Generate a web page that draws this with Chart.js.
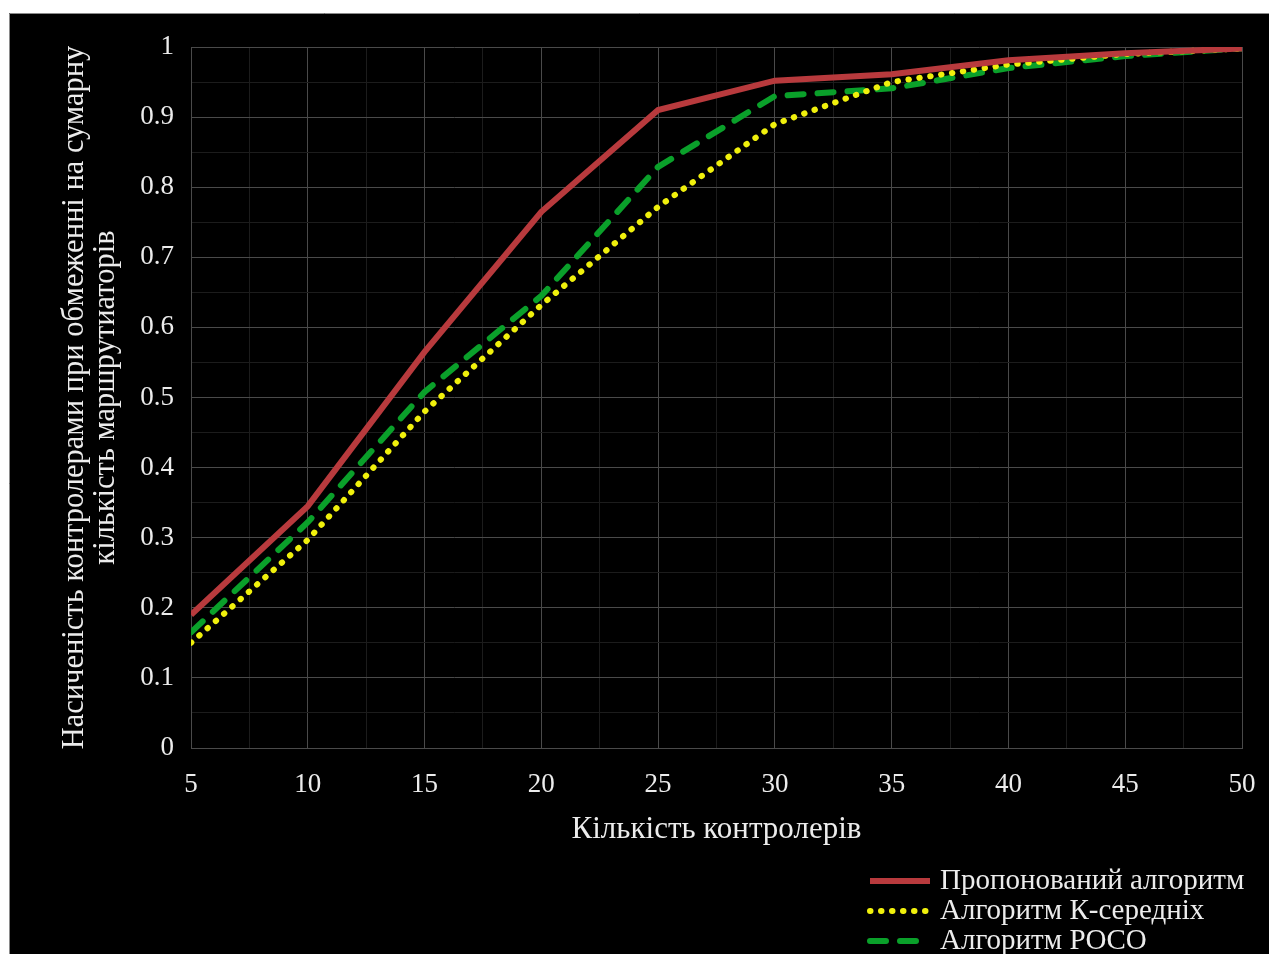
<!DOCTYPE html>
<html>
<head>
<meta charset="utf-8">
<script src="https://cdn.jsdelivr.net/npm/chart.js@4/dist/chart.umd.min.js"></script>
<style>
html,body{margin:0;padding:0;background:#fff;}
#c{display:block;}
</style>
</head>
<body>
<canvas id="c" width="1269" height="954"></canvas>
<script>
const controllers = [5, 10, 15, 20, 25, 30, 35, 40, 45, 50];
const proposed = [0.19, 0.345, 0.565, 0.765, 0.91, 0.952, 0.961, 0.981, 0.991, 0.998];
const kmeans = [0.15, 0.297, 0.48, 0.632, 0.772, 0.89, 0.95, 0.975, 0.99, 0.998];
const poco = [0.165, 0.322, 0.508, 0.645, 0.829, 0.93, 0.941, 0.97, 0.987, 0.998];
const seriesNames = ['Пропонований алгоритм', 'Алгоритм К-середніх', 'Алгоритм POCO'];
const xTitle = 'Кількість контролерів';
const yTitle = ['Насиченість контролерами при обмеженні на сумарну', 'кількість маршрутиаторів'];

const FONT = '"Liberation Serif", "Times New Roman", serif';
const TEXT = '#ececec';
const GRID_MAJOR = '#4a4a4a';
const GRID_MINOR = '#1c1c1c';

const bgPlugin = {
  id: 'bg',
  beforeDraw(chart) {
    const ctx = chart.ctx;
    ctx.save();
    ctx.fillStyle = '#ffffff';
    ctx.fillRect(0, 0, chart.width, chart.height);
    ctx.fillStyle = '#000000';
    ctx.fillRect(9, 13, chart.width - 9, chart.height - 13);
    ctx.strokeStyle = '#8a8a8a';
    ctx.lineWidth = 1;
    ctx.beginPath();
    ctx.moveTo(9.5, chart.height);
    ctx.lineTo(9.5, 13.5);
    ctx.lineTo(chart.width, 13.5);
    ctx.stroke();
    ctx.restore();
  }
};

const legendPlugin = {
  id: 'customLegend',
  afterDraw(chart) {
    const ctx = chart.ctx;
    ctx.save();
    chart.data.datasets.forEach((ds, i) => {
      const y = 881 + i * 30;
      ctx.strokeStyle = ds.borderColor;
      ctx.lineWidth = ds.borderWidth;
      ctx.lineCap = ds.borderCapStyle || 'butt';
      ctx.setLineDash(ds.borderDash || []);
      ctx.beginPath();
      ctx.moveTo(870, y);
      ctx.lineTo(930, y);
      ctx.stroke();
      ctx.setLineDash([]);
      ctx.fillStyle = TEXT;
      ctx.font = '29px ' + FONT;
      ctx.textAlign = 'left';
      ctx.textBaseline = 'middle';
      ctx.fillText(ds.label, 940, y);
    });
    ctx.restore();
  }
};

const isMult = (v, step) => Math.abs(v / step - Math.round(v / step)) < 1e-6;

new Chart(document.getElementById('c'), {
  type: 'line',
  data: {
    datasets: [
      {
        label: seriesNames[0],
        data: controllers.map((x, i) => ({x, y: proposed[i]})),
        borderColor: '#b83a3d',
        borderWidth: 6,
        borderCapStyle: 'butt',
        pointRadius: 0,
        tension: 0
      },
      {
        label: seriesNames[1],
        data: controllers.map((x, i) => ({x, y: kmeans[i]})),
        borderColor: '#f0f00c',
        borderWidth: 6,
        borderDash: [0.5, 10.5],
        borderCapStyle: 'round',
        pointRadius: 0,
        tension: 0
      },
      {
        label: seriesNames[2],
        data: controllers.map((x, i) => ({x, y: poco[i]})),
        borderColor: '#0aa02a',
        borderWidth: 6,
        borderDash: [16, 14],
        borderCapStyle: 'round',
        pointRadius: 0,
        tension: 0
      }
    ]
  },
  options: {
    responsive: false,
    animation: false,
    devicePixelRatio: 1,
    layout: {padding: {left: 60, right: 27, top: 47, bottom: 106}},
    plugins: {legend: {display: false}, tooltip: {enabled: false}},
    scales: {
      x: {
        type: 'linear',
        min: 5,
        max: 50,
        afterFit(s) { s.height = 100; s.paddingRight = 0; s.paddingLeft = 0; },
        grid: {
          drawTicks: false,
          color: c => (c.tick && isMult(c.tick.value, 5)) ? GRID_MAJOR : GRID_MINOR,
          lineWidth: 1
        },
        border: {color: GRID_MAJOR},
        ticks: {
          stepSize: 2.5,
          autoSkip: false,
          maxRotation: 0,
          padding: 21,
          color: TEXT,
          font: {family: FONT, size: 27},
          callback: v => isMult(v, 5) ? String(Math.round(v)) : ''
        },
        title: {
          display: true,
          text: xTitle,
          color: TEXT,
          font: {family: FONT, size: 31, lineHeight: 1.2},
          padding: {top: 0, bottom: 0}
        }
      },
      y: {
        min: 0,
        max: 1,
        afterFit(s) { s.width = 131; s.paddingTop = 0; s.paddingBottom = 0; },
        grid: {
          drawTicks: false,
          color: c => (c.tick && isMult(c.tick.value, 0.1)) ? GRID_MAJOR : GRID_MINOR,
          lineWidth: 1
        },
        border: {color: GRID_MAJOR},
        ticks: {
          stepSize: 0.05,
          autoSkip: false,
          padding: 17,
          color: TEXT,
          font: {family: FONT, size: 27},
          callback: v => isMult(v, 0.1) ? String(Math.round(v * 10) / 10) : ''
        },
        title: {
          display: true,
          text: yTitle,
          color: TEXT,
          font: {family: FONT, size: 30.5, lineHeight: 1.0},
          padding: {top: 0, bottom: 0}
        }
      }
    }
  },
  plugins: [bgPlugin, legendPlugin]
});
</script>
</body>
</html>
